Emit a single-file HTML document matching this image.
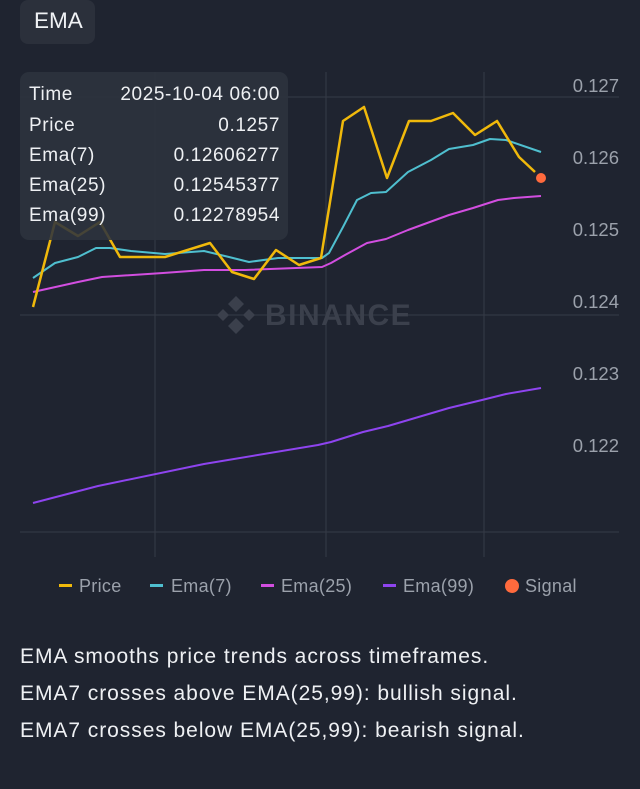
<!DOCTYPE html>
<html><head><meta charset="utf-8"><style>
html,body{margin:0;padding:0;background:#1f2430;width:640px;height:789px;overflow:hidden;font-family:"Liberation Sans",sans-serif}
.t{position:absolute;left:20px;color:#eef0f3;font-size:21px;letter-spacing:0.95px}
</style></head><body>
<svg width="640" height="789" style="position:absolute;left:0;top:0" font-family="Liberation Sans, sans-serif">
<rect x="20" y="0" width="75" height="44" rx="8" fill="#2b303b"/>
<text x="34" y="28" fill="#f0f2f5" font-size="22.5">EMA</text>
<g stroke="#353b47" stroke-width="1">
<line x1="20" y1="97" x2="619" y2="97"/><line x1="20" y1="315" x2="619" y2="315"/><line x1="20" y1="532" x2="619" y2="532"/>
<line x1="155" y1="72" x2="155" y2="557"/><line x1="326" y1="72" x2="326" y2="557"/><line x1="484" y1="72" x2="484" y2="557"/>
</g>
<g fill="#9ba1ab" font-size="18.5" text-anchor="end">
<text x="619" y="92">0.127</text><text x="619" y="164">0.126</text><text x="619" y="236">0.125</text><text x="619" y="308">0.124</text><text x="619" y="380">0.123</text><text x="619" y="452">0.122</text>
</g>
<g fill="#3b404c"><path d="M236 296 l8 8 -8 8 -8 -8z M223 309 l6 6 -6 6 -6 -6z M249 309 l6 6 -6 6 -6 -6z M236 318 l8 8 -8 8 -8 -8z"/>
<text x="265" y="325" font-size="30" font-weight="bold" fill="#3b404c" letter-spacing="1.5">BINANCE</text></g>
<g fill="none" stroke-width="2" stroke-linejoin="round">
<polyline stroke="#8e44ef" points="33,503 98,486 204,464 318,445 331,442 363,432 388,426 449,408 482,400 506,394 541,388"/>
<polyline stroke="#d24ee0" points="33,292 78,282 102,277 163,273 204,270 245,270 322,267 331,263 345,255 367,243 386,239 408,230 449,215 473,208 498,200 514,198 541,196"/>
<polyline stroke="#4fbfcf" points="33,278 55,263 78,257 96,248 110,248 131,251 165,254 204,251 229,257 249,262 278,258 322,258 329,253 343,227 357,200 371,193 386,192 408,172 431,160 449,149 473,145 490,139 506,140 541,152"/>
<polyline stroke="#f0b90b" stroke-width="2.5" points="33,307 55,222 78,236 100,222 120,257 165,257 210,243 232,272 254,279 276,250 299,265 321,258 343,121 364,107 387,178 409,121 431,121 453,113 475,135 497,121 519,157 535,172"/>
</g>
<circle cx="541" cy="178" r="5" fill="#ff6a3d"/>
<rect x="20" y="72" width="268" height="168" rx="9" fill="#2e333e" fill-opacity="0.88"/>
<g fill="#eef0f3" font-size="19" letter-spacing="0.6">
<text x="29" y="100">Time</text><text x="29" y="131">Price</text><text x="29" y="161">Ema(7)</text><text x="29" y="191">Ema(25)</text><text x="29" y="221">Ema(99)</text>
<g text-anchor="end"><text x="280" y="100">2025-10-04 06:00</text><text x="280" y="131">0.1257</text><text x="280" y="161">0.12606277</text><text x="280" y="191">0.12545377</text><text x="280" y="221">0.12278954</text></g>
</g>
<g font-size="18" fill="#9ba1ab" letter-spacing="0.3">
<rect x="59" y="584" width="13" height="3" fill="#f0b90b"/><text x="79" y="592">Price</text>
<rect x="150" y="584" width="13" height="3" fill="#4fbfcf"/><text x="171" y="592">Ema(7)</text>
<rect x="261" y="584" width="13" height="3" fill="#d24ee0"/><text x="281" y="592">Ema(25)</text>
<rect x="383" y="584" width="13" height="3" fill="#8e44ef"/><text x="403" y="592">Ema(99)</text>
<circle cx="512" cy="586" r="7" fill="#ff6a3d"/><text x="525" y="592">Signal</text>
</g>
</svg>
<div class="t" style="top:645px">EMA smooths price trends across timeframes.</div>
<div class="t" style="top:682px">EMA7 crosses above EMA(25,99): bullish signal.</div>
<div class="t" style="top:719px">EMA7 crosses below EMA(25,99): bearish signal.</div>
</body></html>
